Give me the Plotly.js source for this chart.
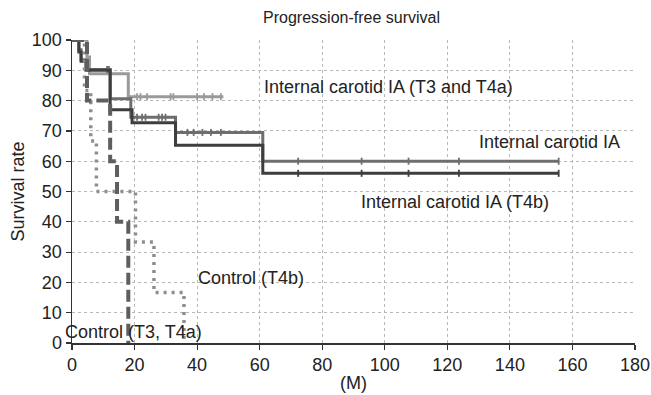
<!DOCTYPE html>
<html>
<head>
<meta charset="utf-8">
<script src="https://cdn.plot.ly/plotly-3.0.1.min.js"></script>
<style>html,body{margin:0;padding:0;background:#fff;}#chart{width:651px;height:395px;}</style>
</head>
<body>
<div id="chart"></div>
<script>
// Internal carotid IA (T3 and T4a)
const iaT3T4aMonths = [0, 4.8, 5.6, 18, 48.4];
const iaT3T4aSurv = [100, 94.4, 88.9, 81.3, 81.3];
const iaT3T4aCensMonths = [20.8, 21.9, 24, 31.5, 32.4, 40, 42.2, 44.9, 47.6];
const iaT3T4aCensSurv = [81.3, 81.3, 81.3, 81.3, 81.3, 81.3, 81.3, 81.3, 81.3];

// Internal carotid IA (all)
const iaAllMonths = [0, 2.2, 2.9, 4.5, 12.2, 18.8, 33.1, 61, 155.6];
const iaAllSurv = [100, 96.8, 93.5, 90.3, 80.6, 74.5, 69.5, 60, 60];
const iaAllCensMonths = [11.2, 11.8, 20.8, 22.4, 23.5, 27.7, 28.8, 29.9, 36.9, 38.9, 41.7, 44.4, 47.6, 72.3, 92.6, 107.6, 123.7, 155.6];
const iaAllCensSurv = [90.3, 90.3, 74.5, 74.5, 74.5, 74.5, 74.5, 74.5, 69.5, 69.5, 69.5, 69.5, 69.5, 60, 60, 60, 60, 60];

// Internal carotid IA (T4b)
const iaT4bMonths = [0, 2.2, 2.9, 4.5, 12.2, 19.2, 33.1, 61, 155.6];
const iaT4bSurv = [100, 96, 93, 90, 77, 72.7, 65.3, 56, 56];
const iaT4bCensMonths = [72.3, 92.6, 107.6, 123.7, 155.6];
const iaT4bCensSurv = [56, 56, 56, 56, 56];

// Control (T3, T4a)
const ctrlT3T4aMonths = [0, 4.8, 12.2, 14.4, 18];
const ctrlT3T4aSurv = [100, 80, 60, 40, 0];

// Control (T4b)
const ctrlT4bMonths = [0, 4, 6, 7.8, 20.3, 26.2, 35.8];
const ctrlT4bSurv = [100, 83.3, 66.7, 50, 33.3, 16.7, 0];

const xTicks = [0, 20, 40, 60, 80, 100, 120, 140, 160, 180];
const yTicks = [0, 10, 20, 30, 40, 50, 60, 70, 80, 90, 100];

// label positions in data units (month, survival)
const labels = [
  {text: 'Internal carotid IA (T3 and T4a)', x: 60.7, y: 84.5, anchor: 'left'},
  {text: 'Internal carotid IA', x: 176, y: 66.3, anchor: 'right'},
  {text: 'Internal carotid IA (T4b)', x: 91.7, y: 46.5, anchor: 'left'},
  {text: 'Control (T4b)', x: 39.8, y: 21.5, anchor: 'left'},
  {text: 'Control (T3, T4a)', x: -2.9, y: 3.6, anchor: 'left'}
];
const xMax = 180, yMax = 100;

const cA = '#9a9a9a', cB = '#6e6e6e', cC = '#3e3e3e', cD = '#5e5e5e', cE = '#8e8e8e';

function stepLine(x, y, color, width, dash) {
  return {x: x, y: y, type: 'scatter', mode: 'lines', line: {shape: 'hv', color: color, width: width, dash: dash || 'solid'}, hoverinfo: 'skip', cliponaxis: false};
}
function censor(x, y, color) {
  return {x: x, y: y, type: 'scatter', mode: 'markers', marker: {symbol: 'line-ns', size: 5, line: {color: color, width: 1.8}}, hoverinfo: 'skip', cliponaxis: false};
}

const data = [
  stepLine(iaT3T4aMonths, iaT3T4aSurv, cA, 3),
  censor(iaT3T4aCensMonths, iaT3T4aCensSurv, cA),
  stepLine(iaAllMonths, iaAllSurv, cB, 3),
  censor(iaAllCensMonths, iaAllCensSurv, cB),
  stepLine(iaT4bMonths, iaT4bSurv, cC, 3),
  censor(iaT4bCensMonths, iaT4bCensSurv, cC),
  stepLine(ctrlT4bMonths, ctrlT4bSurv, cE, 3.5, '3px,5px'),
  stepLine(ctrlT3T4aMonths, ctrlT3T4aSurv, cD, 4, '12px,5px')
];

const fontFam = '"Liberation Sans", Arial, Helvetica, sans-serif';

const layout = {
  width: 651, height: 395,
  margin: {l: 72, r: 16, t: 40, b: 52},
  paper_bgcolor: '#fff', plot_bgcolor: '#fff',
  showlegend: false,
  font: {family: fontFam, size: 18, color: '#222'},
  title: {text: 'Progression-free survival', font: {family: fontFam, size: 16, color: '#222'}, x: 0.54, xanchor: 'center', y: 0.957, yanchor: 'middle'},
  xaxis: {
    range: [0, xMax], tickvals: xTicks, ticktext: xTicks.map(String),
    showline: true, linecolor: '#333', linewidth: 1.5,
    ticks: 'outside', ticklen: 5, tickcolor: '#333', tickwidth: 1.2,
    showgrid: true, gridcolor: '#b8b8b8', griddash: 'dot', gridwidth: 1,
    zeroline: false, tickfont: {size: 18, color: '#222'},
    title: {text: '(M)', font: {size: 18, color: '#222'}, standoff: 2}
  },
  yaxis: {
    range: [0, yMax], tickvals: yTicks, ticktext: yTicks.map(String),
    showline: true, linecolor: '#333', linewidth: 1.5,
    ticks: 'outside', ticklen: 5, tickcolor: '#333', tickwidth: 1.2,
    showgrid: true, gridcolor: '#b8b8b8', griddash: 'dot', gridwidth: 1,
    zeroline: false, tickfont: {size: 18, color: '#222'},
    title: {text: 'Survival rate', font: {size: 18, color: '#222'}, standoff: 2}
  },
  annotations: labels.map(l => ({
    text: l.text, x: l.x / xMax, y: l.y / yMax, xref: 'paper', yref: 'paper', xanchor: l.anchor, yanchor: 'middle',
    showarrow: false, font: {family: fontFam, size: 18, color: '#222'}
  }))
};

Plotly.newPlot('chart', data, layout, {displayModeBar: false, staticPlot: true});
</script>
</body>
</html>
